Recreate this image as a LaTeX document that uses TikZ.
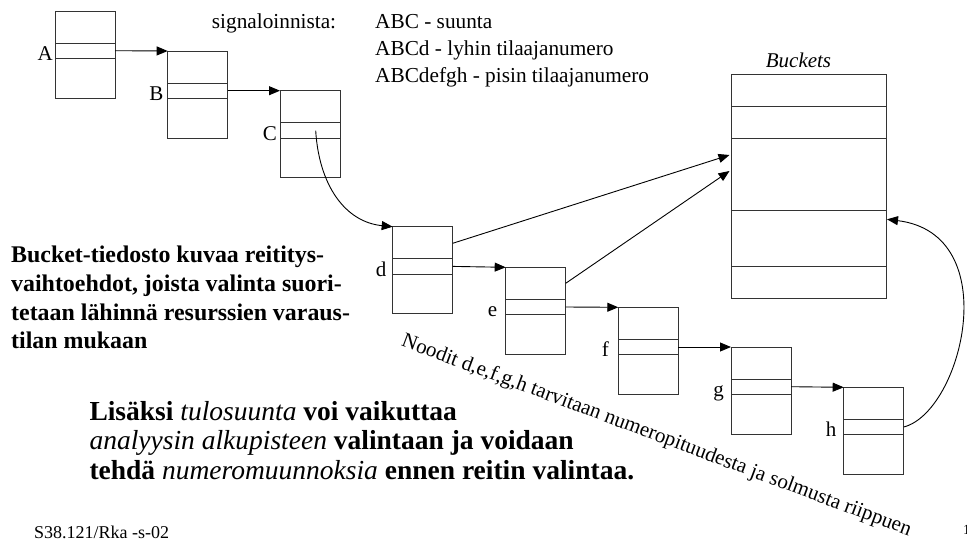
\documentclass[tikz,border=0pt]{standalone}
\usepackage{fontspec}
\setmainfont{Liberation Serif}
\usetikzlibrary{arrows.meta}
\newcommand\ital[1]{{\mdseries\itshape #1}}
\begin{document}
\begin{tikzpicture}[x=1pt,y=-1pt,
  rec/.style={draw=black!80, line width=1pt, minimum width=60pt, minimum height=87pt, inner sep=0pt, outer sep=0pt, anchor=north west},
  bucket/.style={draw=black!80, line width=1pt, minimum width=155pt, minimum height=223.7pt, inner sep=0pt, outer sep=0pt, anchor=north west},
  sep/.style={draw=black!80, line width=1pt},
  conn/.style={draw=black, line width=0.9pt},
  arr/.style={conn, -{Triangle[length=11pt,width=9pt]}},
  txt/.style={inner sep=0pt, anchor=base west, font=\fontsize{21.3}{25}\selectfont},
  lbl/.style={inner sep=0pt, anchor=base east, font=\fontsize{21}{25}\selectfont},
  boldL/.style={inner sep=0pt, anchor=base west, font=\fontsize{23.9}{28}\selectfont\bfseries},
  boldB/.style={inner sep=0pt, anchor=base west, font=\fontsize{27.5}{30}\selectfont\bfseries},
  foot/.style={inner sep=0pt, anchor=base west, font=\fontsize{18}{20}\selectfont}
]
\useasboundingbox (0,0) rectangle (967,544);

% record boxes
\foreach \n/\x/\y in {A/55/11, B/167.7/51, C/280/90.7, d/392.7/226.7, e/505.7/267.3, f/618.3/307.3, g/731/347, h/843.7/387.3}{
  \node[rec] (\n) at (\x,\y) {};
  \draw[sep] ([yshift=-32pt]\n.north west) -- ([yshift=-32pt]\n.north east);
  \draw[sep] ([yshift=-47.5pt]\n.north west) -- ([yshift=-47.5pt]\n.north east);
}

% labels
\node[lbl] (lA) at (53,60.5) {A};
\node[lbl] (lB) at (163.5,100.5) {B};
\node[lbl] (lC) at (277,140.2) {C};
\node[lbl] (ld) at (386.5,276.2) {d};
\node[lbl] (le) at (497.5,316.8) {e};
\node[lbl] (lf) at (609,356.8) {f};
\node[lbl] (lg) at (724,396.5) {g};
\node[lbl] (lh) at (836.5,436.8) {h};

% buckets
\node[bucket] (bk) at (731,74.3) {};
\foreach \o in {32,64.4,136.4,192.4}{
  \draw[sep] ([yshift=-\o pt]bk.north west) -- ([yshift=-\o pt]bk.north east);
}
\node[inner sep=0pt, anchor=base, font=\fontsize{21}{25}\selectfont\itshape] (bkt) at (798.5,67) {Buckets};

% chain arrows
\draw[arr] ([yshift=-39.7pt]A.north east) -- (B.north west);
\draw[arr] ([yshift=-39.7pt]B.north east) -- (C.north west);
\draw[arr] ([yshift=-39.7pt]d.north east) -- (e.north west);
\draw[arr] ([yshift=-39.7pt]e.north east) -- (f.north west);
\draw[arr] ([yshift=-39.7pt]f.north east) -- (g.north west);
\draw[arr] ([yshift=-39.7pt]g.north east) -- (h.north west);

% C to d curve
\coordinate (cs) at ([xshift=35.7pt,yshift=-40pt]C.north west);
\draw[arr] (cs) .. controls (319,185) and (345,222) .. (d.north west);

% to buckets
\draw[arr] ([yshift=-16.6pt]d.north east) -- ([yshift=-80.7pt,xshift=-1.5pt]bk.north west);
\draw[arr] ([yshift=-16pt]e.north east) -- ([yshift=-96.7pt,xshift=-1.5pt]bk.north west);
\draw[arr] ([yshift=-39.7pt]h.north east) .. controls (962,412) and (1006,234) .. ([yshift=-145pt,xshift=1pt]bk.north east);

% top texts
\node[txt] (sig) at (211.7,28) {signaloinnista:};
\node[txt] (t1) at (375,28) {ABC - suunta};
\node[txt] (t2) at (375,55) {ABCd - lyhin tilaajanumero};
\node[txt] (t3) at (375,82) {ABCdefgh - pisin tilaajanumero};

% left bold text
\node[boldL] (l1) at (11,262.7) {Bucket-tiedosto kuvaa reititys-};
\node[boldL] (l2) at (11,291) {vaihtoehdot, joista valinta suori-};
\node[boldL] (l3) at (11,320) {tetaan lähinnä resurssien varaus-};
\node[boldL] (l4) at (11,348.3) {tilan mukaan};

% bottom bold text
\node[boldB] (b1) at (89.3,420) {Lisäksi \ital{tulosuunta} voi vaikuttaa};
\node[boldB] (b2) at (89.3,449.7) {\ital{analyysin alkupisteen} valintaan ja voidaan};
\node[boldB] (b3) at (89.3,479.3) {tehdä \ital{numeromuunnoksia} ennen reitin valintaa.};

% rotated text
\node[inner sep=0pt, rotate=-20.5, font=\fontsize{21}{25}\selectfont] (rot) at (656.5,435.9) {Noodit d,e,f,g,h tarvitaan numeropituudesta ja solmusta riippuen};

% footer
\node[foot] (ft) at (34,538) {S38.121/Rka -s-02};
\node[inner sep=0pt, anchor=base west, font=\fontsize{14}{16}\selectfont] (pg) at (963,534.3) {1};
\end{tikzpicture}
\end{document}
